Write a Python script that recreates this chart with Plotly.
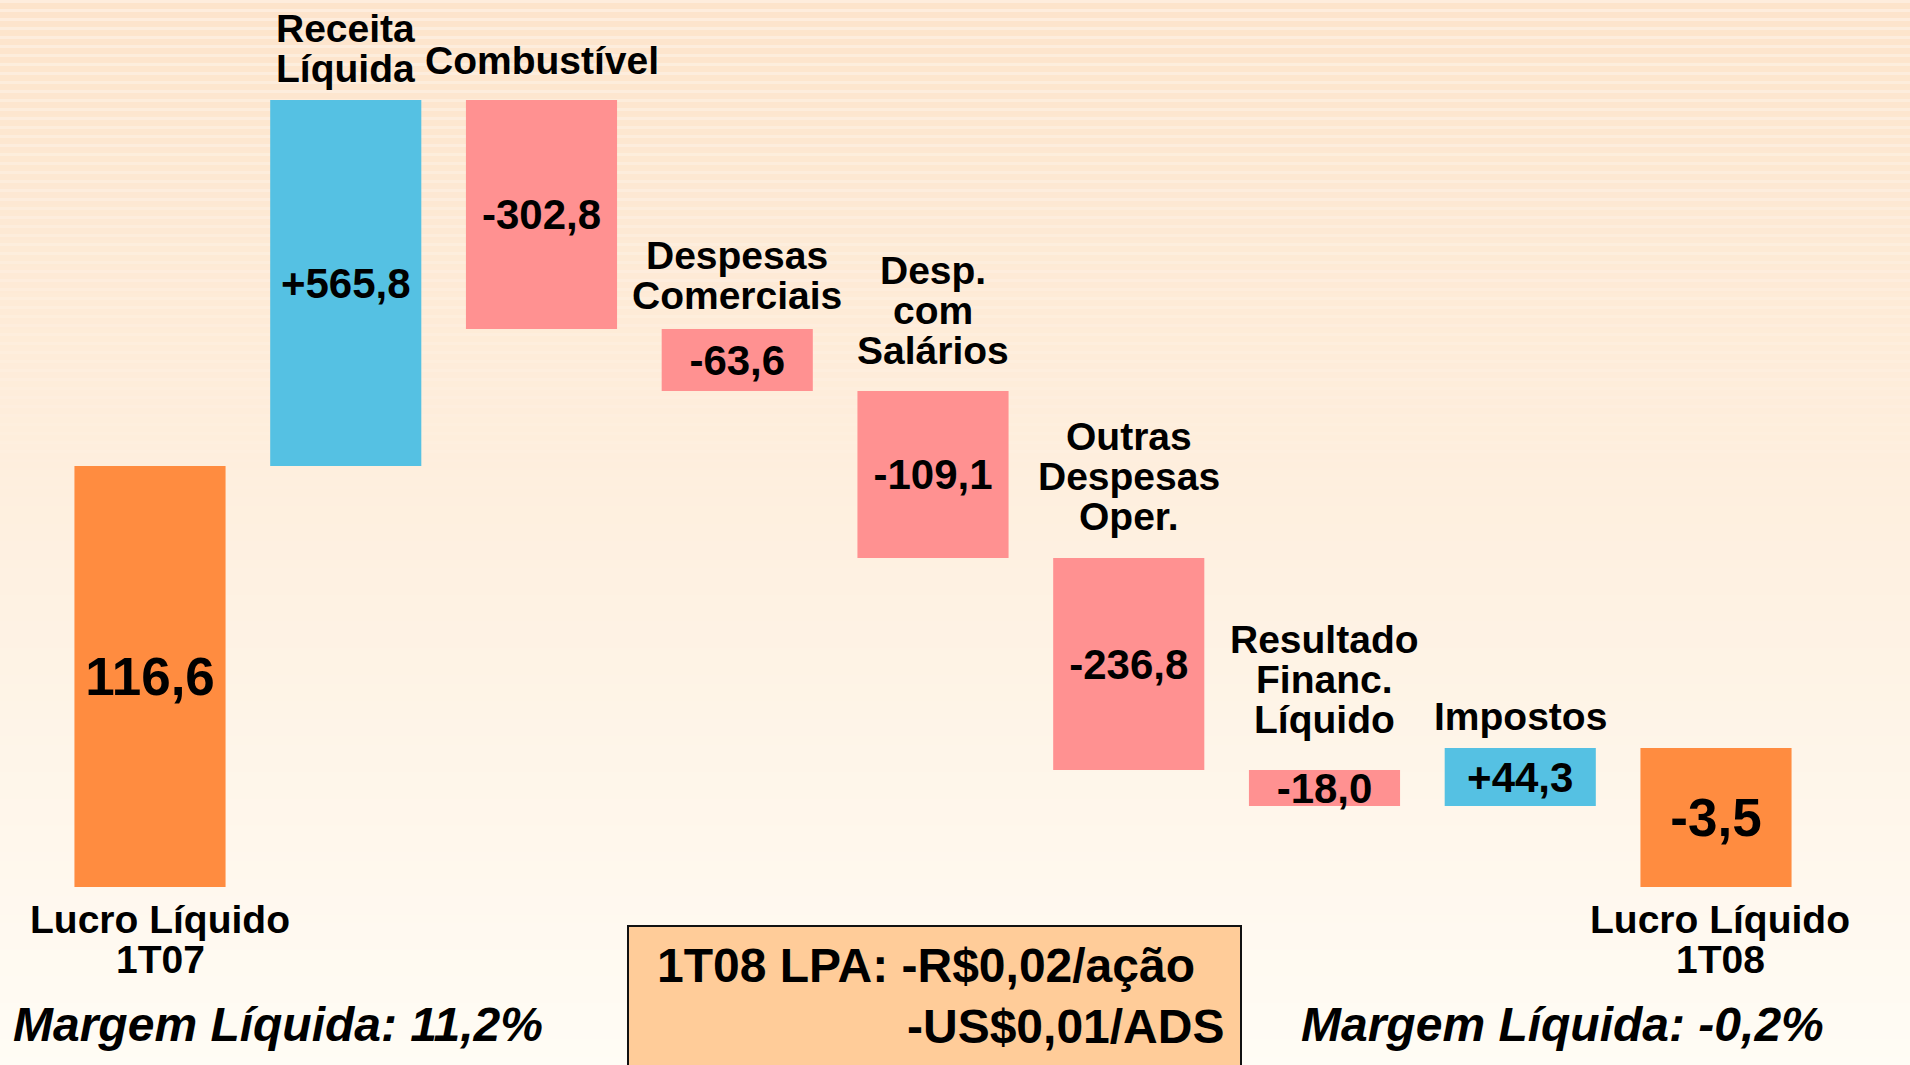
import plotly.graph_objects as go

# ---------------- data ----------------
categories = [
    "Lucro Líquido 1T07", "Receita Líquida", "Combustível", "Despesas Comerciais",
    "Desp. com Salários", "Outras Despesas Oper.", "Resultado Financ. Líquido",
    "Impostos", "Lucro Líquido 1T08",
]
# values printed on the bars (R$ milhões)
value_labels = ["116,6", "+565,8", "-302,8", "-63,6", "-109,1", "-236,8", "-18,0", "+44,3", "-3,5"]
measures = ["absolute", "relative", "relative", "relative", "relative",
            "relative", "relative", "relative", "total"]
# bar heights as drawn on the slide (the slide is not drawn to scale)
drawn_heights = [421, 366, -229, -62, -167, -212, -36, 58, 0]

# category captions, split into lines
top_captions = [
    None,
    ["Receita", "Líquida"],
    ["Combustível"],
    ["Despesas", "Comerciais"],
    ["Desp.", "com", "Salários"],
    ["Outras", "Despesas", "Oper."],
    ["Resultado", "Financ.", "Líquido"],
    ["Impostos"],
    None,
]
bottom_captions = [["Lucro Líquido", "1T07"], None, None, None, None, None, None, None,
                   ["Lucro Líquido", "1T08"]]
margins_text = ["Margem Líquida: 11,2%", "Margem Líquida: -0,2%"]
eps_lines = ["1T08 LPA: -R$0,02/ação", "-US$0,01/ADS"]

# ---------------- style ----------------
W, H = 1910, 1065
FONT = "Liberation Sans, Arial, sans-serif"
BLUE, PINK, ORANGE = "#55C1E3", "#FF9191", "#FF8C40"
caption_gap = [0, 17, 25, 19, 26, 27, 36, 17, 0]  # px between caption baseline and bar top
LINE = 40

fig = go.Figure()

fig.add_trace(go.Waterfall(
    x=categories,
    y=drawn_heights,
    measure=measures,
    text=value_labels,
    textposition="inside",
    insidetextanchor="middle",
    constraintext="none",
    textfont=dict(family=FONT, weight="bold", color="black",
                  size=[53, 42, 42, 42, 42, 42, 42, 42, 53]),
    increasing=dict(marker=dict(color=BLUE, line=dict(width=0))),
    decreasing=dict(marker=dict(color=PINK, line=dict(width=0))),
    totals=dict(marker=dict(color=ORANGE, line=dict(width=0))),
    connector=dict(visible=False),
    hoverinfo="skip",
    showlegend=False,
))

# running totals to place captions relative to bars
tops, level = [], 0
for h, m in zip(drawn_heights, measures):
    if m == "absolute":
        start, level = 0, h
    elif m == "total":
        start = 0
    else:
        start, level = level, level + h
    tops.append(max(start, level))

annotations = []
for i, cap in enumerate(top_captions):
    if not cap:
        continue
    n = len(cap)
    for k, line in enumerate(cap):
        annotations.append(dict(
            x=categories[i], y=tops[i], xref="x", yref="y",
            text=line, showarrow=False, xanchor="center", yanchor="bottom",
            yshift=caption_gap[i] + (n - 1 - k) * LINE - 9,
            font=dict(family=FONT, size=39, color="black", weight="bold"),
        ))
for i, cap in enumerate(bottom_captions):
    if not cap:
        continue
    for k, line in enumerate(cap):
        annotations.append(dict(
            x=categories[i], y=0, xref="x", yref="y",
            text=line, showarrow=False, xanchor="center", yanchor="bottom",
            xshift=10 if i == 0 else 4,
            yshift=-(56 + LINE * k),
            font=dict(family=FONT, size=39, color="black", weight="bold"),
        ))

# margins
for txt, xc in zip(margins_text, [278 / W, 1562 / W]):
    annotations.append(dict(
        x=xc, y=1 - 1053 / H, xref="paper", yref="paper", text=txt,
        showarrow=False, xanchor="center", yanchor="bottom",
        font=dict(family=FONT, size=48, color="black", weight="bold", style="italic"),
    ))

# EPS box text
annotations.append(dict(
    x=655 / W, y=1 - 994 / H, xref="paper", yref="paper", text=eps_lines[0],
    showarrow=False, xanchor="left", yanchor="bottom",
    font=dict(family=FONT, size=48, color="black", weight="bold"),
))
annotations.append(dict(
    x=1226 / W, y=1 - 1055 / H, xref="paper", yref="paper", text=eps_lines[1],
    showarrow=False, xanchor="right", yanchor="bottom",
    font=dict(family=FONT, size=48, color="black", weight="bold"),
))

# background gradient (top peach -> bottom cream)
shapes = []
top_c, bot_c = (253, 228, 203), (255, 252, 245)
N = 120
for j in range(N):
    t = (j + 0.5) / N
    c = tuple(round(a + (b - a) * t) for a, b in zip(top_c, bot_c))
    shapes.append(dict(type="rect", xref="paper", yref="paper",
                       x0=0, x1=1, y0=1 - (j + 1) / N - 0.001, y1=1 - j / N,
                       fillcolor="rgb(%d,%d,%d)" % c, line=dict(width=0), layer="below"))
# faint stripes in the upper part
for j in range(0, 60):
    yp = j * 9
    alpha = 0.35 * (1 - j / 60)
    shapes.append(dict(type="rect", xref="paper", yref="paper",
                       x0=0, x1=1, y0=1 - (yp + 3) / H, y1=1 - yp / H,
                       fillcolor="rgba(255,255,255,%.3f)" % alpha, line=dict(width=0),
                       layer="below"))
# EPS box
shapes.append(dict(type="rect", xref="paper", yref="paper",
                   x0=628 / W, x1=1241 / W, y0=-0.05, y1=1 - 926 / H,
                   fillcolor="#FFCC99", line=dict(color="#111111", width=2), layer="above"))

bar_pitch = 195.75
x0 = -150 / bar_pitch
x1 = x0 + W / bar_pitch

fig.update_layout(
    width=W, height=H,
    margin=dict(l=0, r=0, t=0, b=0),
    paper_bgcolor="#FFFCF5",
    plot_bgcolor="rgba(0,0,0,0)",
    waterfallgap=0.228,
    xaxis=dict(visible=False, range=[x0, x1], type="category"),
    yaxis=dict(visible=False, range=[-(H - 887), 887]),
    shapes=shapes,
    annotations=annotations,
    font=dict(family=FONT),
)

fig.write_html("out.html", post_script="document.body.style.margin='0';document.body.style.overflow='hidden';",
               config={"displayModeBar": False})
